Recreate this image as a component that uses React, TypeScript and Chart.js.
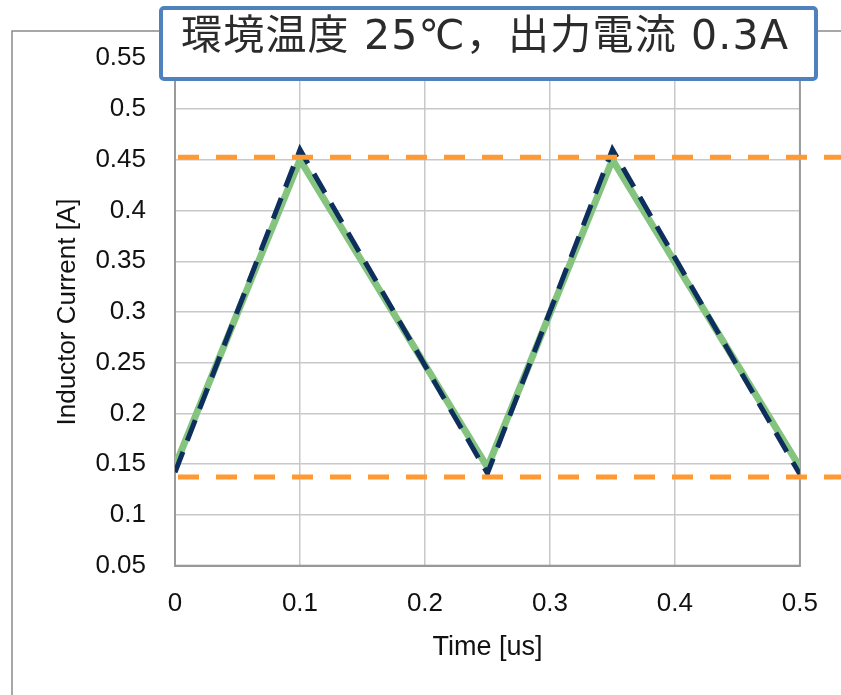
import React, { useEffect, useRef } from "react";
import { Chart, registerables } from "chart.js";

Chart.register(...registerables);

// ---- data ----
const timeUs = [0, 0.1, 0.25, 0.35, 0.5];
const simulatedCurrent = [0.148, 0.45, 0.147, 0.45, 0.147];
const calculatedCurrent = [0.142, 0.46, 0.141, 0.46, 0.14];
const limitSpanUs = [0, 0.535];
const upperLimit = [0.4525, 0.4525];
const lowerLimit = [0.1375, 0.1375];
const xTickValues = [0, 0.1, 0.2, 0.3, 0.4, 0.5];
const yTickValues = [0.05, 0.1, 0.15, 0.2, 0.25, 0.3, 0.35, 0.4, 0.45, 0.5, 0.55];
const titleText = "環境温度 25℃，出力電流 0.3A";
const xTitle = "Time [us]";
const yTitle = "Inductor Current [A]";

const toPoints = (xs: number[], ys: number[]) => xs.map((x, i) => ({ x, y: ys[i] }));

const framePlugin = {
  id: "frame",
  beforeDraw(chart: any) {
    const ctx = chart.ctx;
    ctx.save();
    ctx.fillStyle = "#ffffff";
    ctx.fillRect(0, 0, chart.width, chart.height);
    ctx.strokeStyle = "#8a8a8a";
    ctx.lineWidth = 1.5;
    ctx.beginPath();
    ctx.moveTo(12, chart.height + 2);
    ctx.lineTo(12, 31);
    ctx.lineTo(chart.width + 2, 31);
    ctx.stroke();
    ctx.restore();
  },
  beforeDatasetsDraw(chart: any) {
    const { ctx, chartArea: a } = chart;
    ctx.save();
    ctx.strokeStyle = "#9a9a9a";
    ctx.lineWidth = 2;
    ctx.strokeRect(a.left, a.top, a.right - a.left, a.bottom - a.top);
    ctx.restore();
  },
  afterDraw(chart: any) {
    const ctx = chart.ctx;
    ctx.save();
    ctx.beginPath();
    (ctx as any).roundRect(161, 8, 655, 71, 3);
    ctx.fillStyle = "#ffffff";
    ctx.fill();
    ctx.strokeStyle = "#4F81BD";
    ctx.lineWidth = 4;
    ctx.stroke();
    ctx.fillStyle = "#2b2b2b";
    ctx.font = '41px "DejaVu Sans", "Noto Sans CJK JP", sans-serif';
    (ctx as any).letterSpacing = "1.2px";
    ctx.textBaseline = "middle";
    ctx.textAlign = "left";
    ctx.fillText(titleText, 181, 38);
    ctx.restore();
  },
};

export default function App() {
  const ref = useRef<HTMLCanvasElement | null>(null);

  useEffect(() => {
    document.body.style.margin = "0";
    const canvas = ref.current;
    if (!canvas) return;
    const tickFont = { family: '"Liberation Sans", Arial, sans-serif', size: 26 };
    const chart = new Chart(canvas, {
      type: "line",
      data: {
        datasets: [
          {
            label: "upper",
            data: toPoints(limitSpanUs, upperLimit),
            borderColor: "#FF9933",
            borderWidth: 5,
            borderDash: [21, 17],
            borderDashOffset: 35,
            pointRadius: 0,
            clip: false,
          },
          {
            label: "lower",
            data: toPoints(limitSpanUs, lowerLimit),
            borderColor: "#FF9933",
            borderWidth: 5,
            borderDash: [21, 17],
            borderDashOffset: 35,
            pointRadius: 0,
            clip: false,
          },
          {
            label: "calculated",
            data: toPoints(timeUs, calculatedCurrent),
            borderColor: "#0E2F5E",
            borderWidth: 5,
            borderDash: [22, 12],
            pointRadius: 0,
          },
          {
            label: "simulated",
            data: toPoints(timeUs, simulatedCurrent),
            borderColor: "#85C47F",
            borderWidth: 7,
            borderCapStyle: "round",
            borderJoinStyle: "round",
            pointRadius: 0,
          },
        ],
      } as any,
      options: {
        animation: false,
        responsive: false,
        devicePixelRatio: 1,
        layout: { padding: { top: 58.3, right: 40.3, bottom: 0, left: 0 } },
        plugins: { legend: { display: false }, tooltip: { enabled: false }, title: { display: false } },
        elements: { line: { tension: 0 } },
        scales: {
          x: {
            type: "linear",
            min: 0,
            max: 0.5,
            afterBuildTicks: (s: any) => {
              s.ticks = xTickValues.map((v) => ({ value: v }));
            },
            afterFit: (s: any) => {
              s.height = 129.3;
            },
            ticks: {
              font: tickFont,
              color: "#111",
              padding: 23,
              callback: (v: any) => String(v),
            },
            grid: { color: "#c8c8c8", lineWidth: 1.5, drawTicks: false },
            border: { color: "#8c8c8c", width: 2 },
            title: {
              display: true,
              text: xTitle,
              font: { family: '"Liberation Sans", Arial, sans-serif', size: 27 },
              color: "#111",
              padding: { top: 0, bottom: 31 },
            },
          },
          y: {
            type: "linear",
            min: 0.05,
            max: 0.55,
            afterBuildTicks: (s: any) => {
              s.ticks = yTickValues.map((v) => ({ value: v }));
            },
            afterFit: (s: any) => {
              s.width = 175;
            },
            ticks: {
              font: tickFont,
              color: "#111",
              padding: 29,
              callback: (v: any) => String(v),
            },
            grid: { color: "#c8c8c8", lineWidth: 1.5, drawTicks: false },
            border: { color: "#8c8c8c", width: 2 },
            title: {
              display: true,
              text: yTitle,
              font: { family: '"Liberation Sans", Arial, sans-serif', size: 26 },
              color: "#111",
              padding: { top: 52, bottom: 0 },
            },
          },
        },
      } as any,
      plugins: [framePlugin],
    });
    return () => chart.destroy();
  }, []);

  return (
    <div style={{ width: 841, height: 695 }}>
      <canvas ref={ref} width={841} height={695} style={{ display: "block", width: 841, height: 695 }} />
    </div>
  );
}
